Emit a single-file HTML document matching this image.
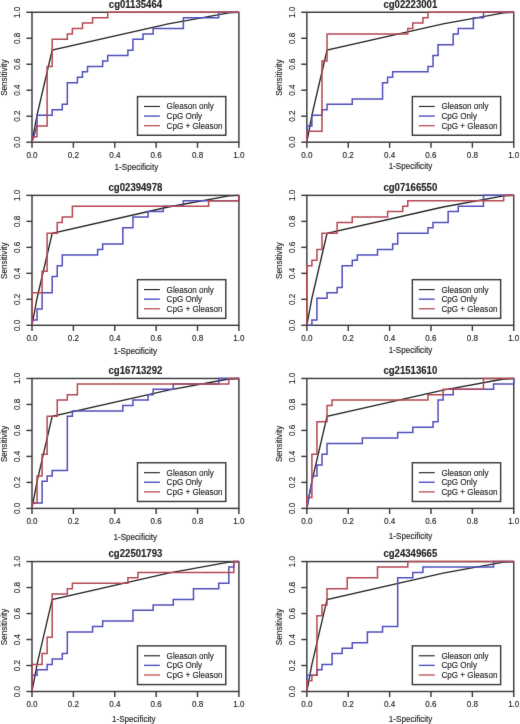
<!DOCTYPE html>
<html><head><meta charset="utf-8"><title>ROC curves</title>
<style>
html,body{margin:0;padding:0;background:#fff;}
body{width:520px;height:724px;overflow:hidden;}
svg{display:block;will-change:transform;}
svg text{font-family:"Liberation Sans",sans-serif;fill:#222;stroke:#222;stroke-width:0.12;}
</style></head>
<body>
<svg width="520" height="724" viewBox="0 0 520 724">
<defs><filter id="bl" x="0" y="0" width="520" height="724" filterUnits="userSpaceOnUse" color-interpolation-filters="sRGB"><feConvolveMatrix order="3" kernelMatrix="0.00524 0.06192 0.00524 0.06192 0.73137 0.06192 0.00524 0.06192 0.00524" divisor="1" edgeMode="duplicate"/></filter></defs><rect width="520" height="724" fill="#fff"/>
<g filter="url(#bl)"><text transform="translate(135.45,7.67) scale(1,1.06)" text-anchor="middle" font-weight="bold" stroke-width="0.45" font-size="9.6">cg01135464</text>
<polyline points="32,142.2 37.05,115.13 52.19,50.17 168.25,23.91 228.81,12.81 238.9,12.27" fill="none" stroke="#262626" stroke-width="1.35" stroke-linejoin="miter" stroke-linecap="butt"/>
<rect x="32" y="12.27" width="206.9" height="129.93" fill="none" stroke="#3c3c3c" stroke-width="1.45"/>
<polyline points="32,142.2 37.05,125.96 37.05,115.13 52.19,115.13 52.19,109.72 62.28,109.72 62.28,104.3 67.32,104.3 67.32,82.65 77.42,82.65 77.42,77.24 82.46,77.24 82.46,71.82 87.51,71.82 87.51,66.41 102.65,66.41 102.65,60.99 107.7,60.99 107.7,55.58 127.88,55.58 127.88,50.17 132.93,50.17 132.93,39.34 143.02,39.34 143.02,33.93 153.11,33.93 153.11,28.51 183.39,28.51 183.39,17.68 218.71,17.68 218.71,12.27 238.9,12.27" fill="none" stroke="#4f4fbb" stroke-width="1.5" stroke-linejoin="miter" stroke-linecap="butt"/>
<polyline points="32,142.2 32,136.79 37.05,136.79 37.05,125.96 47.14,125.96 47.14,66.41 52.19,66.41 52.19,39.34 67.32,39.34 67.32,33.93 72.37,33.93 72.37,28.51 82.46,28.51 82.46,23.1 92.56,23.1 92.56,17.68 107.7,17.68 107.7,12.27 238.9,12.27" fill="none" stroke="#b44852" stroke-width="1.5" stroke-linejoin="miter" stroke-linecap="butt"/>
<line x1="32" y1="142.2" x2="32" y2="147.8" stroke="#3c3c3c" stroke-width="1.45"/>
<text transform="translate(32,157.6) scale(1,1.13)" text-anchor="middle" font-size="8.1">0.0</text>
<line x1="26.4" y1="142.2" x2="32" y2="142.2" stroke="#3c3c3c" stroke-width="1.45"/>
<text transform="translate(20.3,142.2) rotate(-90) scale(1,1.03)" text-anchor="middle" font-size="8.1">0.0</text>
<line x1="73.38" y1="142.2" x2="73.38" y2="147.8" stroke="#3c3c3c" stroke-width="1.45"/>
<text transform="translate(73.38,157.6) scale(1,1.13)" text-anchor="middle" font-size="8.1">0.2</text>
<line x1="26.4" y1="116.21" x2="32" y2="116.21" stroke="#3c3c3c" stroke-width="1.45"/>
<text transform="translate(20.3,116.21) rotate(-90) scale(1,1.03)" text-anchor="middle" font-size="8.1">0.2</text>
<line x1="114.76" y1="142.2" x2="114.76" y2="147.8" stroke="#3c3c3c" stroke-width="1.45"/>
<text transform="translate(114.76,157.6) scale(1,1.13)" text-anchor="middle" font-size="8.1">0.4</text>
<line x1="26.4" y1="90.23" x2="32" y2="90.23" stroke="#3c3c3c" stroke-width="1.45"/>
<text transform="translate(20.3,90.23) rotate(-90) scale(1,1.03)" text-anchor="middle" font-size="8.1">0.4</text>
<line x1="156.14" y1="142.2" x2="156.14" y2="147.8" stroke="#3c3c3c" stroke-width="1.45"/>
<text transform="translate(156.14,157.6) scale(1,1.13)" text-anchor="middle" font-size="8.1">0.6</text>
<line x1="26.4" y1="64.24" x2="32" y2="64.24" stroke="#3c3c3c" stroke-width="1.45"/>
<text transform="translate(20.3,64.24) rotate(-90) scale(1,1.03)" text-anchor="middle" font-size="8.1">0.6</text>
<line x1="197.52" y1="142.2" x2="197.52" y2="147.8" stroke="#3c3c3c" stroke-width="1.45"/>
<text transform="translate(197.52,157.6) scale(1,1.13)" text-anchor="middle" font-size="8.1">0.8</text>
<line x1="26.4" y1="38.26" x2="32" y2="38.26" stroke="#3c3c3c" stroke-width="1.45"/>
<text transform="translate(20.3,38.26) rotate(-90) scale(1,1.03)" text-anchor="middle" font-size="8.1">0.8</text>
<line x1="238.9" y1="142.2" x2="238.9" y2="147.8" stroke="#3c3c3c" stroke-width="1.45"/>
<text transform="translate(238.9,157.6) scale(1,1.13)" text-anchor="middle" font-size="8.1">1.0</text>
<line x1="26.4" y1="12.27" x2="32" y2="12.27" stroke="#3c3c3c" stroke-width="1.45"/>
<text transform="translate(20.3,12.27) rotate(-90) scale(1,1.03)" text-anchor="middle" font-size="8.1">1.0</text>
<text transform="translate(136.4,169.7) scale(1,1.13)" text-anchor="middle" font-size="8.1">1-Specificity</text>
<text transform="translate(6.9,77.64) rotate(-90) scale(1,1.03)" text-anchor="middle" font-size="8.1">Sensitivity</text>
<rect x="137.5" y="96.57" width="88.3" height="38.7" fill="#fff" stroke="#3c3c3c" stroke-width="1.45"/>
<line x1="144" y1="106.47" x2="159.9" y2="106.47" stroke="#262626" stroke-width="1.15"/>
<text transform="translate(166.6,109.47) scale(1,1.13)" font-size="8.1">Gleason only</text>
<line x1="144" y1="116.07" x2="159.9" y2="116.07" stroke="#5050c0" stroke-width="1.4"/>
<text transform="translate(166.6,119.07) scale(1,1.13)" font-size="8.1">CpG Only</text>
<line x1="144" y1="125.67" x2="159.9" y2="125.67" stroke="#c05858" stroke-width="1.4"/>
<text transform="translate(166.6,128.67) scale(1,1.13)" font-size="8.1">CpG + Gleason</text>
<text transform="translate(410.3,7.67) scale(1,1.06)" text-anchor="middle" font-weight="bold" stroke-width="0.45" font-size="9.6">cg02223001</text>
<polyline points="306.85,142.2 311.9,115.13 327.04,50.17 443.1,23.91 503.66,12.81 513.75,12.27" fill="none" stroke="#262626" stroke-width="1.35" stroke-linejoin="miter" stroke-linecap="butt"/>
<rect x="306.85" y="12.27" width="206.9" height="129.93" fill="none" stroke="#3c3c3c" stroke-width="1.45"/>
<polyline points="306.85,142.2 306.85,125.96 311.9,125.96 311.9,115.13 321.99,115.13 321.99,109.72 327.04,109.72 327.04,104.3 352.27,104.3 352.27,98.89 382.55,98.89 382.55,82.65 387.59,82.65 387.59,77.24 392.64,77.24 392.64,71.82 427.96,71.82 427.96,66.41 433.01,66.41 433.01,55.58 438.05,55.58 438.05,44.75 453.19,44.75 453.19,33.93 458.24,33.93 458.24,28.51 473.38,28.51 473.38,17.68 483.47,17.68 483.47,12.27 513.75,12.27" fill="none" stroke="#4f4fbb" stroke-width="1.5" stroke-linejoin="miter" stroke-linecap="butt"/>
<polyline points="306.85,142.2 306.85,131.37 321.99,131.37 321.99,60.99 327.04,60.99 327.04,33.93 407.78,33.93 407.78,28.51 412.82,28.51 412.82,23.1 422.92,23.1 422.92,17.68 427.96,17.68 427.96,12.27 513.75,12.27" fill="none" stroke="#b44852" stroke-width="1.5" stroke-linejoin="miter" stroke-linecap="butt"/>
<line x1="306.85" y1="142.2" x2="306.85" y2="147.8" stroke="#3c3c3c" stroke-width="1.45"/>
<text transform="translate(306.85,157.6) scale(1,1.13)" text-anchor="middle" font-size="8.1">0.0</text>
<line x1="301.25" y1="142.2" x2="306.85" y2="142.2" stroke="#3c3c3c" stroke-width="1.45"/>
<text transform="translate(295.15,142.2) rotate(-90) scale(1,1.03)" text-anchor="middle" font-size="8.1">0.0</text>
<line x1="348.23" y1="142.2" x2="348.23" y2="147.8" stroke="#3c3c3c" stroke-width="1.45"/>
<text transform="translate(348.23,157.6) scale(1,1.13)" text-anchor="middle" font-size="8.1">0.2</text>
<line x1="301.25" y1="116.21" x2="306.85" y2="116.21" stroke="#3c3c3c" stroke-width="1.45"/>
<text transform="translate(295.15,116.21) rotate(-90) scale(1,1.03)" text-anchor="middle" font-size="8.1">0.2</text>
<line x1="389.61" y1="142.2" x2="389.61" y2="147.8" stroke="#3c3c3c" stroke-width="1.45"/>
<text transform="translate(389.61,157.6) scale(1,1.13)" text-anchor="middle" font-size="8.1">0.4</text>
<line x1="301.25" y1="90.23" x2="306.85" y2="90.23" stroke="#3c3c3c" stroke-width="1.45"/>
<text transform="translate(295.15,90.23) rotate(-90) scale(1,1.03)" text-anchor="middle" font-size="8.1">0.4</text>
<line x1="430.99" y1="142.2" x2="430.99" y2="147.8" stroke="#3c3c3c" stroke-width="1.45"/>
<text transform="translate(430.99,157.6) scale(1,1.13)" text-anchor="middle" font-size="8.1">0.6</text>
<line x1="301.25" y1="64.24" x2="306.85" y2="64.24" stroke="#3c3c3c" stroke-width="1.45"/>
<text transform="translate(295.15,64.24) rotate(-90) scale(1,1.03)" text-anchor="middle" font-size="8.1">0.6</text>
<line x1="472.37" y1="142.2" x2="472.37" y2="147.8" stroke="#3c3c3c" stroke-width="1.45"/>
<text transform="translate(472.37,157.6) scale(1,1.13)" text-anchor="middle" font-size="8.1">0.8</text>
<line x1="301.25" y1="38.26" x2="306.85" y2="38.26" stroke="#3c3c3c" stroke-width="1.45"/>
<text transform="translate(295.15,38.26) rotate(-90) scale(1,1.03)" text-anchor="middle" font-size="8.1">0.8</text>
<line x1="513.75" y1="142.2" x2="513.75" y2="147.8" stroke="#3c3c3c" stroke-width="1.45"/>
<text transform="translate(513.75,157.6) scale(1,1.13)" text-anchor="middle" font-size="8.1">1.0</text>
<line x1="301.25" y1="12.27" x2="306.85" y2="12.27" stroke="#3c3c3c" stroke-width="1.45"/>
<text transform="translate(295.15,12.27) rotate(-90) scale(1,1.03)" text-anchor="middle" font-size="8.1">1.0</text>
<text transform="translate(410.45,169.2) scale(1,1.13)" text-anchor="middle" font-size="8.1">1-Specificity</text>
<text transform="translate(281.75,77.64) rotate(-90) scale(1,1.03)" text-anchor="middle" font-size="8.1">Sensitivity</text>
<rect x="412.35" y="96.57" width="88.3" height="38.7" fill="#fff" stroke="#3c3c3c" stroke-width="1.45"/>
<line x1="418.85" y1="106.47" x2="434.75" y2="106.47" stroke="#262626" stroke-width="1.15"/>
<text transform="translate(441.45,109.47) scale(1,1.13)" font-size="8.1">Gleason only</text>
<line x1="418.85" y1="116.07" x2="434.75" y2="116.07" stroke="#5050c0" stroke-width="1.4"/>
<text transform="translate(441.45,119.07) scale(1,1.13)" font-size="8.1">CpG Only</text>
<line x1="418.85" y1="125.67" x2="434.75" y2="125.67" stroke="#c05858" stroke-width="1.4"/>
<text transform="translate(441.45,128.67) scale(1,1.13)" font-size="8.1">CpG + Gleason</text>
<text transform="translate(135.45,190.77) scale(1,1.06)" text-anchor="middle" font-weight="bold" stroke-width="0.45" font-size="9.6">cg02394978</text>
<polyline points="32,325.3 37.05,298.23 52.19,233.27 168.25,207.01 228.81,195.91 238.9,195.37" fill="none" stroke="#262626" stroke-width="1.35" stroke-linejoin="miter" stroke-linecap="butt"/>
<rect x="32" y="195.37" width="206.9" height="129.93" fill="none" stroke="#3c3c3c" stroke-width="1.45"/>
<polyline points="32,325.3 32,319.89 37.05,319.89 37.05,309.06 42.09,309.06 42.09,292.82 52.19,292.82 52.19,276.58 57.23,276.58 57.23,265.75 62.28,265.75 62.28,254.92 97.6,254.92 97.6,249.51 102.65,249.51 102.65,244.09 122.83,244.09 122.83,227.85 132.93,227.85 132.93,217.03 148.07,217.03 148.07,211.61 163.2,211.61 163.2,206.2 183.39,206.2 183.39,200.78 238.9,200.78 238.9,195.37" fill="none" stroke="#4f4fbb" stroke-width="1.5" stroke-linejoin="miter" stroke-linecap="butt"/>
<polyline points="32,325.3 32,292.82 42.09,292.82 42.09,271.16 47.14,271.16 47.14,233.27 57.23,233.27 57.23,222.44 62.28,222.44 62.28,217.03 72.37,217.03 72.37,206.2 208.62,206.2 208.62,200.78 238.9,200.78 238.9,195.37" fill="none" stroke="#b44852" stroke-width="1.5" stroke-linejoin="miter" stroke-linecap="butt"/>
<line x1="32" y1="325.3" x2="32" y2="330.9" stroke="#3c3c3c" stroke-width="1.45"/>
<text transform="translate(32,340.7) scale(1,1.13)" text-anchor="middle" font-size="8.1">0.0</text>
<line x1="26.4" y1="325.3" x2="32" y2="325.3" stroke="#3c3c3c" stroke-width="1.45"/>
<text transform="translate(20.3,325.3) rotate(-90) scale(1,1.03)" text-anchor="middle" font-size="8.1">0.0</text>
<line x1="73.38" y1="325.3" x2="73.38" y2="330.9" stroke="#3c3c3c" stroke-width="1.45"/>
<text transform="translate(73.38,340.7) scale(1,1.13)" text-anchor="middle" font-size="8.1">0.2</text>
<line x1="26.4" y1="299.31" x2="32" y2="299.31" stroke="#3c3c3c" stroke-width="1.45"/>
<text transform="translate(20.3,299.31) rotate(-90) scale(1,1.03)" text-anchor="middle" font-size="8.1">0.2</text>
<line x1="114.76" y1="325.3" x2="114.76" y2="330.9" stroke="#3c3c3c" stroke-width="1.45"/>
<text transform="translate(114.76,340.7) scale(1,1.13)" text-anchor="middle" font-size="8.1">0.4</text>
<line x1="26.4" y1="273.33" x2="32" y2="273.33" stroke="#3c3c3c" stroke-width="1.45"/>
<text transform="translate(20.3,273.33) rotate(-90) scale(1,1.03)" text-anchor="middle" font-size="8.1">0.4</text>
<line x1="156.14" y1="325.3" x2="156.14" y2="330.9" stroke="#3c3c3c" stroke-width="1.45"/>
<text transform="translate(156.14,340.7) scale(1,1.13)" text-anchor="middle" font-size="8.1">0.6</text>
<line x1="26.4" y1="247.34" x2="32" y2="247.34" stroke="#3c3c3c" stroke-width="1.45"/>
<text transform="translate(20.3,247.34) rotate(-90) scale(1,1.03)" text-anchor="middle" font-size="8.1">0.6</text>
<line x1="197.52" y1="325.3" x2="197.52" y2="330.9" stroke="#3c3c3c" stroke-width="1.45"/>
<text transform="translate(197.52,340.7) scale(1,1.13)" text-anchor="middle" font-size="8.1">0.8</text>
<line x1="26.4" y1="221.36" x2="32" y2="221.36" stroke="#3c3c3c" stroke-width="1.45"/>
<text transform="translate(20.3,221.36) rotate(-90) scale(1,1.03)" text-anchor="middle" font-size="8.1">0.8</text>
<line x1="238.9" y1="325.3" x2="238.9" y2="330.9" stroke="#3c3c3c" stroke-width="1.45"/>
<text transform="translate(238.9,340.7) scale(1,1.13)" text-anchor="middle" font-size="8.1">1.0</text>
<line x1="26.4" y1="195.37" x2="32" y2="195.37" stroke="#3c3c3c" stroke-width="1.45"/>
<text transform="translate(20.3,195.37) rotate(-90) scale(1,1.03)" text-anchor="middle" font-size="8.1">1.0</text>
<text transform="translate(135.2,353.7) scale(1,1.13)" text-anchor="middle" font-size="8.1">1-Specificity</text>
<text transform="translate(6.9,260.74) rotate(-90) scale(1,1.03)" text-anchor="middle" font-size="8.1">Sensitivity</text>
<rect x="137.5" y="279.67" width="88.3" height="38.7" fill="#fff" stroke="#3c3c3c" stroke-width="1.45"/>
<line x1="144" y1="289.57" x2="159.9" y2="289.57" stroke="#262626" stroke-width="1.15"/>
<text transform="translate(166.6,292.57) scale(1,1.13)" font-size="8.1">Gleason only</text>
<line x1="144" y1="299.17" x2="159.9" y2="299.17" stroke="#5050c0" stroke-width="1.4"/>
<text transform="translate(166.6,302.17) scale(1,1.13)" font-size="8.1">CpG Only</text>
<line x1="144" y1="308.77" x2="159.9" y2="308.77" stroke="#c05858" stroke-width="1.4"/>
<text transform="translate(166.6,311.77) scale(1,1.13)" font-size="8.1">CpG + Gleason</text>
<text transform="translate(410.3,190.77) scale(1,1.06)" text-anchor="middle" font-weight="bold" stroke-width="0.45" font-size="9.6">cg07166550</text>
<polyline points="306.85,325.3 311.9,298.23 327.04,233.27 443.1,207.01 503.66,195.91 513.75,195.37" fill="none" stroke="#262626" stroke-width="1.35" stroke-linejoin="miter" stroke-linecap="butt"/>
<rect x="306.85" y="195.37" width="206.9" height="129.93" fill="none" stroke="#3c3c3c" stroke-width="1.45"/>
<polyline points="306.85,325.3 311.9,325.3 311.9,319.89 316.94,319.89 316.94,298.23 327.04,298.23 327.04,292.82 337.13,292.82 337.13,287.4 342.17,287.4 342.17,265.75 352.27,265.75 352.27,260.34 357.31,260.34 357.31,254.92 377.5,254.92 377.5,249.51 392.64,249.51 392.64,244.09 397.68,244.09 397.68,233.27 427.96,233.27 427.96,227.85 433.01,227.85 433.01,222.44 448.15,222.44 448.15,211.61 458.24,211.61 458.24,206.2 483.47,206.2 483.47,195.37 513.75,195.37" fill="none" stroke="#4f4fbb" stroke-width="1.5" stroke-linejoin="miter" stroke-linecap="butt"/>
<polyline points="306.85,325.3 306.85,265.75 311.9,265.75 311.9,260.34 316.94,260.34 316.94,249.51 321.99,249.51 321.99,233.27 337.13,233.27 337.13,222.44 352.27,222.44 352.27,217.03 387.59,217.03 387.59,211.61 402.73,211.61 402.73,206.2 407.78,206.2 407.78,200.78 503.66,200.78 503.66,195.37 513.75,195.37" fill="none" stroke="#b44852" stroke-width="1.5" stroke-linejoin="miter" stroke-linecap="butt"/>
<line x1="306.85" y1="325.3" x2="306.85" y2="330.9" stroke="#3c3c3c" stroke-width="1.45"/>
<text transform="translate(306.85,340.7) scale(1,1.13)" text-anchor="middle" font-size="8.1">0.0</text>
<line x1="301.25" y1="325.3" x2="306.85" y2="325.3" stroke="#3c3c3c" stroke-width="1.45"/>
<text transform="translate(295.15,325.3) rotate(-90) scale(1,1.03)" text-anchor="middle" font-size="8.1">0.0</text>
<line x1="348.23" y1="325.3" x2="348.23" y2="330.9" stroke="#3c3c3c" stroke-width="1.45"/>
<text transform="translate(348.23,340.7) scale(1,1.13)" text-anchor="middle" font-size="8.1">0.2</text>
<line x1="301.25" y1="299.31" x2="306.85" y2="299.31" stroke="#3c3c3c" stroke-width="1.45"/>
<text transform="translate(295.15,299.31) rotate(-90) scale(1,1.03)" text-anchor="middle" font-size="8.1">0.2</text>
<line x1="389.61" y1="325.3" x2="389.61" y2="330.9" stroke="#3c3c3c" stroke-width="1.45"/>
<text transform="translate(389.61,340.7) scale(1,1.13)" text-anchor="middle" font-size="8.1">0.4</text>
<line x1="301.25" y1="273.33" x2="306.85" y2="273.33" stroke="#3c3c3c" stroke-width="1.45"/>
<text transform="translate(295.15,273.33) rotate(-90) scale(1,1.03)" text-anchor="middle" font-size="8.1">0.4</text>
<line x1="430.99" y1="325.3" x2="430.99" y2="330.9" stroke="#3c3c3c" stroke-width="1.45"/>
<text transform="translate(430.99,340.7) scale(1,1.13)" text-anchor="middle" font-size="8.1">0.6</text>
<line x1="301.25" y1="247.34" x2="306.85" y2="247.34" stroke="#3c3c3c" stroke-width="1.45"/>
<text transform="translate(295.15,247.34) rotate(-90) scale(1,1.03)" text-anchor="middle" font-size="8.1">0.6</text>
<line x1="472.37" y1="325.3" x2="472.37" y2="330.9" stroke="#3c3c3c" stroke-width="1.45"/>
<text transform="translate(472.37,340.7) scale(1,1.13)" text-anchor="middle" font-size="8.1">0.8</text>
<line x1="301.25" y1="221.36" x2="306.85" y2="221.36" stroke="#3c3c3c" stroke-width="1.45"/>
<text transform="translate(295.15,221.36) rotate(-90) scale(1,1.03)" text-anchor="middle" font-size="8.1">0.8</text>
<line x1="513.75" y1="325.3" x2="513.75" y2="330.9" stroke="#3c3c3c" stroke-width="1.45"/>
<text transform="translate(513.75,340.7) scale(1,1.13)" text-anchor="middle" font-size="8.1">1.0</text>
<line x1="301.25" y1="195.37" x2="306.85" y2="195.37" stroke="#3c3c3c" stroke-width="1.45"/>
<text transform="translate(295.15,195.37) rotate(-90) scale(1,1.03)" text-anchor="middle" font-size="8.1">1.0</text>
<text transform="translate(410.45,353.4) scale(1,1.13)" text-anchor="middle" font-size="8.1">1-Specificity</text>
<text transform="translate(281.75,260.74) rotate(-90) scale(1,1.03)" text-anchor="middle" font-size="8.1">Sensitivity</text>
<rect x="412.35" y="279.67" width="88.3" height="38.7" fill="#fff" stroke="#3c3c3c" stroke-width="1.45"/>
<line x1="418.85" y1="289.57" x2="434.75" y2="289.57" stroke="#262626" stroke-width="1.15"/>
<text transform="translate(441.45,292.57) scale(1,1.13)" font-size="8.1">Gleason only</text>
<line x1="418.85" y1="299.17" x2="434.75" y2="299.17" stroke="#5050c0" stroke-width="1.4"/>
<text transform="translate(441.45,302.17) scale(1,1.13)" font-size="8.1">CpG Only</text>
<line x1="418.85" y1="308.77" x2="434.75" y2="308.77" stroke="#c05858" stroke-width="1.4"/>
<text transform="translate(441.45,311.77) scale(1,1.13)" font-size="8.1">CpG + Gleason</text>
<text transform="translate(135.45,373.87) scale(1,1.06)" text-anchor="middle" font-weight="bold" stroke-width="0.45" font-size="9.6">cg16713292</text>
<polyline points="32,508.4 37.05,481.33 52.19,416.37 168.25,390.11 228.81,379.01 238.9,378.47" fill="none" stroke="#262626" stroke-width="1.35" stroke-linejoin="miter" stroke-linecap="butt"/>
<rect x="32" y="378.47" width="206.9" height="129.93" fill="none" stroke="#3c3c3c" stroke-width="1.45"/>
<polyline points="32,508.4 32,502.99 42.09,502.99 42.09,481.33 47.14,481.33 47.14,475.92 52.19,475.92 52.19,470.5 67.32,470.5 67.32,416.37 72.37,416.37 72.37,410.95 122.83,410.95 122.83,405.54 132.93,405.54 132.93,400.12 148.07,400.12 148.07,394.71 153.11,394.71 153.11,389.3 173.3,389.3 173.3,383.88 218.71,383.88 218.71,378.47 238.9,378.47" fill="none" stroke="#4f4fbb" stroke-width="1.5" stroke-linejoin="miter" stroke-linecap="butt"/>
<polyline points="32,508.4 32,502.99 37.05,502.99 37.05,475.92 42.09,475.92 42.09,454.26 47.14,454.26 47.14,416.37 57.23,416.37 57.23,400.12 67.32,400.12 67.32,394.71 77.42,394.71 77.42,383.88 228.81,383.88 228.81,378.47 238.9,378.47" fill="none" stroke="#b44852" stroke-width="1.5" stroke-linejoin="miter" stroke-linecap="butt"/>
<line x1="32" y1="508.4" x2="32" y2="514" stroke="#3c3c3c" stroke-width="1.45"/>
<text transform="translate(32,523.8) scale(1,1.13)" text-anchor="middle" font-size="8.1">0.0</text>
<line x1="26.4" y1="508.4" x2="32" y2="508.4" stroke="#3c3c3c" stroke-width="1.45"/>
<text transform="translate(20.3,508.4) rotate(-90) scale(1,1.03)" text-anchor="middle" font-size="8.1">0.0</text>
<line x1="73.38" y1="508.4" x2="73.38" y2="514" stroke="#3c3c3c" stroke-width="1.45"/>
<text transform="translate(73.38,523.8) scale(1,1.13)" text-anchor="middle" font-size="8.1">0.2</text>
<line x1="26.4" y1="482.41" x2="32" y2="482.41" stroke="#3c3c3c" stroke-width="1.45"/>
<text transform="translate(20.3,482.41) rotate(-90) scale(1,1.03)" text-anchor="middle" font-size="8.1">0.2</text>
<line x1="114.76" y1="508.4" x2="114.76" y2="514" stroke="#3c3c3c" stroke-width="1.45"/>
<text transform="translate(114.76,523.8) scale(1,1.13)" text-anchor="middle" font-size="8.1">0.4</text>
<line x1="26.4" y1="456.43" x2="32" y2="456.43" stroke="#3c3c3c" stroke-width="1.45"/>
<text transform="translate(20.3,456.43) rotate(-90) scale(1,1.03)" text-anchor="middle" font-size="8.1">0.4</text>
<line x1="156.14" y1="508.4" x2="156.14" y2="514" stroke="#3c3c3c" stroke-width="1.45"/>
<text transform="translate(156.14,523.8) scale(1,1.13)" text-anchor="middle" font-size="8.1">0.6</text>
<line x1="26.4" y1="430.44" x2="32" y2="430.44" stroke="#3c3c3c" stroke-width="1.45"/>
<text transform="translate(20.3,430.44) rotate(-90) scale(1,1.03)" text-anchor="middle" font-size="8.1">0.6</text>
<line x1="197.52" y1="508.4" x2="197.52" y2="514" stroke="#3c3c3c" stroke-width="1.45"/>
<text transform="translate(197.52,523.8) scale(1,1.13)" text-anchor="middle" font-size="8.1">0.8</text>
<line x1="26.4" y1="404.46" x2="32" y2="404.46" stroke="#3c3c3c" stroke-width="1.45"/>
<text transform="translate(20.3,404.46) rotate(-90) scale(1,1.03)" text-anchor="middle" font-size="8.1">0.8</text>
<line x1="238.9" y1="508.4" x2="238.9" y2="514" stroke="#3c3c3c" stroke-width="1.45"/>
<text transform="translate(238.9,523.8) scale(1,1.13)" text-anchor="middle" font-size="8.1">1.0</text>
<line x1="26.4" y1="378.47" x2="32" y2="378.47" stroke="#3c3c3c" stroke-width="1.45"/>
<text transform="translate(20.3,378.47) rotate(-90) scale(1,1.03)" text-anchor="middle" font-size="8.1">1.0</text>
<text transform="translate(135.3,539.8) scale(1,1.13)" text-anchor="middle" font-size="8.1">1-Specificity</text>
<text transform="translate(6.9,443.83) rotate(-90) scale(1,1.03)" text-anchor="middle" font-size="8.1">Sensitivity</text>
<rect x="137.5" y="462.77" width="88.3" height="38.7" fill="#fff" stroke="#3c3c3c" stroke-width="1.45"/>
<line x1="144" y1="472.67" x2="159.9" y2="472.67" stroke="#262626" stroke-width="1.15"/>
<text transform="translate(166.6,475.67) scale(1,1.13)" font-size="8.1">Gleason only</text>
<line x1="144" y1="482.27" x2="159.9" y2="482.27" stroke="#5050c0" stroke-width="1.4"/>
<text transform="translate(166.6,485.27) scale(1,1.13)" font-size="8.1">CpG Only</text>
<line x1="144" y1="491.87" x2="159.9" y2="491.87" stroke="#c05858" stroke-width="1.4"/>
<text transform="translate(166.6,494.87) scale(1,1.13)" font-size="8.1">CpG + Gleason</text>
<text transform="translate(410.3,373.87) scale(1,1.06)" text-anchor="middle" font-weight="bold" stroke-width="0.45" font-size="9.6">cg21513610</text>
<polyline points="306.85,508.4 311.9,481.33 327.04,416.37 443.1,390.11 503.66,379.01 513.75,378.47" fill="none" stroke="#262626" stroke-width="1.35" stroke-linejoin="miter" stroke-linecap="butt"/>
<rect x="306.85" y="378.47" width="206.9" height="129.93" fill="none" stroke="#3c3c3c" stroke-width="1.45"/>
<polyline points="306.85,508.4 312.91,475.92 316.94,475.92 316.94,465.09 321.99,465.09 321.99,454.26 327.04,454.26 327.04,443.43 362.36,443.43 362.36,438.02 397.68,438.02 397.68,432.61 412.82,432.61 412.82,427.19 433.01,427.19 433.01,421.78 438.05,421.78 438.05,400.12 443.1,400.12 443.1,394.71 453.19,394.71 453.19,389.3 493.56,389.3 493.56,383.88 513.75,383.88 513.75,378.47" fill="none" stroke="#4f4fbb" stroke-width="1.5" stroke-linejoin="miter" stroke-linecap="butt"/>
<polyline points="306.85,508.4 306.85,497.57 311.9,497.57 311.9,454.26 316.94,454.26 316.94,421.78 327.04,421.78 327.04,405.54 332.08,405.54 332.08,400.12 427.96,400.12 427.96,394.71 443.1,394.71 443.1,389.3 483.47,389.3 483.47,378.47 513.75,378.47" fill="none" stroke="#b44852" stroke-width="1.5" stroke-linejoin="miter" stroke-linecap="butt"/>
<line x1="306.85" y1="508.4" x2="306.85" y2="514" stroke="#3c3c3c" stroke-width="1.45"/>
<text transform="translate(306.85,523.8) scale(1,1.13)" text-anchor="middle" font-size="8.1">0.0</text>
<line x1="301.25" y1="508.4" x2="306.85" y2="508.4" stroke="#3c3c3c" stroke-width="1.45"/>
<text transform="translate(295.15,508.4) rotate(-90) scale(1,1.03)" text-anchor="middle" font-size="8.1">0.0</text>
<line x1="348.23" y1="508.4" x2="348.23" y2="514" stroke="#3c3c3c" stroke-width="1.45"/>
<text transform="translate(348.23,523.8) scale(1,1.13)" text-anchor="middle" font-size="8.1">0.2</text>
<line x1="301.25" y1="482.41" x2="306.85" y2="482.41" stroke="#3c3c3c" stroke-width="1.45"/>
<text transform="translate(295.15,482.41) rotate(-90) scale(1,1.03)" text-anchor="middle" font-size="8.1">0.2</text>
<line x1="389.61" y1="508.4" x2="389.61" y2="514" stroke="#3c3c3c" stroke-width="1.45"/>
<text transform="translate(389.61,523.8) scale(1,1.13)" text-anchor="middle" font-size="8.1">0.4</text>
<line x1="301.25" y1="456.43" x2="306.85" y2="456.43" stroke="#3c3c3c" stroke-width="1.45"/>
<text transform="translate(295.15,456.43) rotate(-90) scale(1,1.03)" text-anchor="middle" font-size="8.1">0.4</text>
<line x1="430.99" y1="508.4" x2="430.99" y2="514" stroke="#3c3c3c" stroke-width="1.45"/>
<text transform="translate(430.99,523.8) scale(1,1.13)" text-anchor="middle" font-size="8.1">0.6</text>
<line x1="301.25" y1="430.44" x2="306.85" y2="430.44" stroke="#3c3c3c" stroke-width="1.45"/>
<text transform="translate(295.15,430.44) rotate(-90) scale(1,1.03)" text-anchor="middle" font-size="8.1">0.6</text>
<line x1="472.37" y1="508.4" x2="472.37" y2="514" stroke="#3c3c3c" stroke-width="1.45"/>
<text transform="translate(472.37,523.8) scale(1,1.13)" text-anchor="middle" font-size="8.1">0.8</text>
<line x1="301.25" y1="404.46" x2="306.85" y2="404.46" stroke="#3c3c3c" stroke-width="1.45"/>
<text transform="translate(295.15,404.46) rotate(-90) scale(1,1.03)" text-anchor="middle" font-size="8.1">0.8</text>
<line x1="513.75" y1="508.4" x2="513.75" y2="514" stroke="#3c3c3c" stroke-width="1.45"/>
<text transform="translate(513.75,523.8) scale(1,1.13)" text-anchor="middle" font-size="8.1">1.0</text>
<line x1="301.25" y1="378.47" x2="306.85" y2="378.47" stroke="#3c3c3c" stroke-width="1.45"/>
<text transform="translate(295.15,378.47) rotate(-90) scale(1,1.03)" text-anchor="middle" font-size="8.1">1.0</text>
<text transform="translate(410.6,538.7) scale(1,1.13)" text-anchor="middle" font-size="8.1">1-Specificity</text>
<text transform="translate(281.75,443.83) rotate(-90) scale(1,1.03)" text-anchor="middle" font-size="8.1">Sensitivity</text>
<rect x="412.35" y="462.77" width="88.3" height="38.7" fill="#fff" stroke="#3c3c3c" stroke-width="1.45"/>
<line x1="418.85" y1="472.67" x2="434.75" y2="472.67" stroke="#262626" stroke-width="1.15"/>
<text transform="translate(441.45,475.67) scale(1,1.13)" font-size="8.1">Gleason only</text>
<line x1="418.85" y1="482.27" x2="434.75" y2="482.27" stroke="#5050c0" stroke-width="1.4"/>
<text transform="translate(441.45,485.27) scale(1,1.13)" font-size="8.1">CpG Only</text>
<line x1="418.85" y1="491.87" x2="434.75" y2="491.87" stroke="#c05858" stroke-width="1.4"/>
<text transform="translate(441.45,494.87) scale(1,1.13)" font-size="8.1">CpG + Gleason</text>
<text transform="translate(135.45,556.97) scale(1,1.06)" text-anchor="middle" font-weight="bold" stroke-width="0.45" font-size="9.6">cg22501793</text>
<polyline points="32,691.5 37.05,664.43 52.19,599.47 168.25,573.21 228.81,562.11 238.9,561.57" fill="none" stroke="#262626" stroke-width="1.35" stroke-linejoin="miter" stroke-linecap="butt"/>
<rect x="32" y="561.57" width="206.9" height="129.93" fill="none" stroke="#3c3c3c" stroke-width="1.45"/>
<polyline points="32,691.5 32,675.26 37.05,675.26 37.05,669.85 47.14,669.85 47.14,664.43 52.19,664.43 52.19,659.02 62.28,659.02 62.28,653.6 67.32,653.6 67.32,631.95 92.56,631.95 92.56,626.53 102.65,626.53 102.65,621.12 132.93,621.12 132.93,610.29 153.11,610.29 153.11,604.88 173.3,604.88 173.3,599.47 193.48,599.47 193.48,588.64 218.71,588.64 218.71,583.23 228.81,583.23 228.81,566.98 233.85,566.98 233.85,561.57 238.9,561.57" fill="none" stroke="#4f4fbb" stroke-width="1.5" stroke-linejoin="miter" stroke-linecap="butt"/>
<polyline points="32,691.5 32,664.43 42.09,664.43 42.09,653.6 47.14,653.6 47.14,637.36 52.19,637.36 52.19,594.05 67.32,594.05 67.32,588.64 72.37,588.64 72.37,583.23 127.88,583.23 127.88,577.81 137.97,577.81 137.97,572.4 233.85,572.4 233.85,561.57 238.9,561.57" fill="none" stroke="#b44852" stroke-width="1.5" stroke-linejoin="miter" stroke-linecap="butt"/>
<line x1="32" y1="691.5" x2="32" y2="697.1" stroke="#3c3c3c" stroke-width="1.45"/>
<text transform="translate(32,706.9) scale(1,1.13)" text-anchor="middle" font-size="8.1">0.0</text>
<line x1="26.4" y1="691.5" x2="32" y2="691.5" stroke="#3c3c3c" stroke-width="1.45"/>
<text transform="translate(20.3,691.5) rotate(-90) scale(1,1.03)" text-anchor="middle" font-size="8.1">0.0</text>
<line x1="73.38" y1="691.5" x2="73.38" y2="697.1" stroke="#3c3c3c" stroke-width="1.45"/>
<text transform="translate(73.38,706.9) scale(1,1.13)" text-anchor="middle" font-size="8.1">0.2</text>
<line x1="26.4" y1="665.51" x2="32" y2="665.51" stroke="#3c3c3c" stroke-width="1.45"/>
<text transform="translate(20.3,665.51) rotate(-90) scale(1,1.03)" text-anchor="middle" font-size="8.1">0.2</text>
<line x1="114.76" y1="691.5" x2="114.76" y2="697.1" stroke="#3c3c3c" stroke-width="1.45"/>
<text transform="translate(114.76,706.9) scale(1,1.13)" text-anchor="middle" font-size="8.1">0.4</text>
<line x1="26.4" y1="639.53" x2="32" y2="639.53" stroke="#3c3c3c" stroke-width="1.45"/>
<text transform="translate(20.3,639.53) rotate(-90) scale(1,1.03)" text-anchor="middle" font-size="8.1">0.4</text>
<line x1="156.14" y1="691.5" x2="156.14" y2="697.1" stroke="#3c3c3c" stroke-width="1.45"/>
<text transform="translate(156.14,706.9) scale(1,1.13)" text-anchor="middle" font-size="8.1">0.6</text>
<line x1="26.4" y1="613.54" x2="32" y2="613.54" stroke="#3c3c3c" stroke-width="1.45"/>
<text transform="translate(20.3,613.54) rotate(-90) scale(1,1.03)" text-anchor="middle" font-size="8.1">0.6</text>
<line x1="197.52" y1="691.5" x2="197.52" y2="697.1" stroke="#3c3c3c" stroke-width="1.45"/>
<text transform="translate(197.52,706.9) scale(1,1.13)" text-anchor="middle" font-size="8.1">0.8</text>
<line x1="26.4" y1="587.56" x2="32" y2="587.56" stroke="#3c3c3c" stroke-width="1.45"/>
<text transform="translate(20.3,587.56) rotate(-90) scale(1,1.03)" text-anchor="middle" font-size="8.1">0.8</text>
<line x1="238.9" y1="691.5" x2="238.9" y2="697.1" stroke="#3c3c3c" stroke-width="1.45"/>
<text transform="translate(238.9,706.9) scale(1,1.13)" text-anchor="middle" font-size="8.1">1.0</text>
<line x1="26.4" y1="561.57" x2="32" y2="561.57" stroke="#3c3c3c" stroke-width="1.45"/>
<text transform="translate(20.3,561.57) rotate(-90) scale(1,1.03)" text-anchor="middle" font-size="8.1">1.0</text>
<text transform="translate(133.8,722.35) scale(1,1.13)" text-anchor="middle" font-size="8.1">1-Specificity</text>
<text transform="translate(6.9,626.93) rotate(-90) scale(1,1.03)" text-anchor="middle" font-size="8.1">Sensitivity</text>
<rect x="137.5" y="645.87" width="88.3" height="38.7" fill="#fff" stroke="#3c3c3c" stroke-width="1.45"/>
<line x1="144" y1="655.77" x2="159.9" y2="655.77" stroke="#262626" stroke-width="1.15"/>
<text transform="translate(166.6,658.77) scale(1,1.13)" font-size="8.1">Gleason only</text>
<line x1="144" y1="665.37" x2="159.9" y2="665.37" stroke="#5050c0" stroke-width="1.4"/>
<text transform="translate(166.6,668.37) scale(1,1.13)" font-size="8.1">CpG Only</text>
<line x1="144" y1="674.97" x2="159.9" y2="674.97" stroke="#c05858" stroke-width="1.4"/>
<text transform="translate(166.6,677.97) scale(1,1.13)" font-size="8.1">CpG + Gleason</text>
<text transform="translate(410.3,556.97) scale(1,1.06)" text-anchor="middle" font-weight="bold" stroke-width="0.45" font-size="9.6">cg24349665</text>
<polyline points="306.85,691.5 311.9,664.43 327.04,599.47 443.1,573.21 503.66,562.11 513.75,561.57" fill="none" stroke="#262626" stroke-width="1.35" stroke-linejoin="miter" stroke-linecap="butt"/>
<rect x="306.85" y="561.57" width="206.9" height="129.93" fill="none" stroke="#3c3c3c" stroke-width="1.45"/>
<polyline points="306.85,691.5 306.85,675.26 316.94,675.26 316.94,669.85 321.99,669.85 321.99,664.43 332.08,664.43 332.08,653.6 342.17,653.6 342.17,648.19 352.27,648.19 352.27,642.78 367.41,642.78 367.41,631.95 382.55,631.95 382.55,626.53 397.68,626.53 397.68,577.81 412.82,577.81 412.82,572.4 422.92,572.4 422.92,566.98 493.56,566.98 493.56,561.57 513.75,561.57" fill="none" stroke="#4f4fbb" stroke-width="1.5" stroke-linejoin="miter" stroke-linecap="butt"/>
<polyline points="306.85,691.5 306.85,680.67 311.9,680.67 311.9,675.26 316.94,675.26 316.94,615.71 321.99,615.71 321.99,604.88 327.04,604.88 327.04,588.64 347.22,588.64 347.22,577.81 377.5,577.81 377.5,566.98 407.78,566.98 407.78,561.57 513.75,561.57" fill="none" stroke="#b44852" stroke-width="1.5" stroke-linejoin="miter" stroke-linecap="butt"/>
<line x1="306.85" y1="691.5" x2="306.85" y2="697.1" stroke="#3c3c3c" stroke-width="1.45"/>
<text transform="translate(306.85,706.9) scale(1,1.13)" text-anchor="middle" font-size="8.1">0.0</text>
<line x1="301.25" y1="691.5" x2="306.85" y2="691.5" stroke="#3c3c3c" stroke-width="1.45"/>
<text transform="translate(295.15,691.5) rotate(-90) scale(1,1.03)" text-anchor="middle" font-size="8.1">0.0</text>
<line x1="348.23" y1="691.5" x2="348.23" y2="697.1" stroke="#3c3c3c" stroke-width="1.45"/>
<text transform="translate(348.23,706.9) scale(1,1.13)" text-anchor="middle" font-size="8.1">0.2</text>
<line x1="301.25" y1="665.51" x2="306.85" y2="665.51" stroke="#3c3c3c" stroke-width="1.45"/>
<text transform="translate(295.15,665.51) rotate(-90) scale(1,1.03)" text-anchor="middle" font-size="8.1">0.2</text>
<line x1="389.61" y1="691.5" x2="389.61" y2="697.1" stroke="#3c3c3c" stroke-width="1.45"/>
<text transform="translate(389.61,706.9) scale(1,1.13)" text-anchor="middle" font-size="8.1">0.4</text>
<line x1="301.25" y1="639.53" x2="306.85" y2="639.53" stroke="#3c3c3c" stroke-width="1.45"/>
<text transform="translate(295.15,639.53) rotate(-90) scale(1,1.03)" text-anchor="middle" font-size="8.1">0.4</text>
<line x1="430.99" y1="691.5" x2="430.99" y2="697.1" stroke="#3c3c3c" stroke-width="1.45"/>
<text transform="translate(430.99,706.9) scale(1,1.13)" text-anchor="middle" font-size="8.1">0.6</text>
<line x1="301.25" y1="613.54" x2="306.85" y2="613.54" stroke="#3c3c3c" stroke-width="1.45"/>
<text transform="translate(295.15,613.54) rotate(-90) scale(1,1.03)" text-anchor="middle" font-size="8.1">0.6</text>
<line x1="472.37" y1="691.5" x2="472.37" y2="697.1" stroke="#3c3c3c" stroke-width="1.45"/>
<text transform="translate(472.37,706.9) scale(1,1.13)" text-anchor="middle" font-size="8.1">0.8</text>
<line x1="301.25" y1="587.56" x2="306.85" y2="587.56" stroke="#3c3c3c" stroke-width="1.45"/>
<text transform="translate(295.15,587.56) rotate(-90) scale(1,1.03)" text-anchor="middle" font-size="8.1">0.8</text>
<line x1="513.75" y1="691.5" x2="513.75" y2="697.1" stroke="#3c3c3c" stroke-width="1.45"/>
<text transform="translate(513.75,706.9) scale(1,1.13)" text-anchor="middle" font-size="8.1">1.0</text>
<line x1="301.25" y1="561.57" x2="306.85" y2="561.57" stroke="#3c3c3c" stroke-width="1.45"/>
<text transform="translate(295.15,561.57) rotate(-90) scale(1,1.03)" text-anchor="middle" font-size="8.1">1.0</text>
<text transform="translate(410.6,721.5) scale(1,1.13)" text-anchor="middle" font-size="8.1">1-Specificity</text>
<text transform="translate(281.75,626.93) rotate(-90) scale(1,1.03)" text-anchor="middle" font-size="8.1">Sensitivity</text>
<rect x="412.35" y="645.87" width="88.3" height="38.7" fill="#fff" stroke="#3c3c3c" stroke-width="1.45"/>
<line x1="418.85" y1="655.77" x2="434.75" y2="655.77" stroke="#262626" stroke-width="1.15"/>
<text transform="translate(441.45,658.77) scale(1,1.13)" font-size="8.1">Gleason only</text>
<line x1="418.85" y1="665.37" x2="434.75" y2="665.37" stroke="#5050c0" stroke-width="1.4"/>
<text transform="translate(441.45,668.37) scale(1,1.13)" font-size="8.1">CpG Only</text>
<line x1="418.85" y1="674.97" x2="434.75" y2="674.97" stroke="#c05858" stroke-width="1.4"/>
<text transform="translate(441.45,677.97) scale(1,1.13)" font-size="8.1">CpG + Gleason</text></g>
</svg>
</body></html>
